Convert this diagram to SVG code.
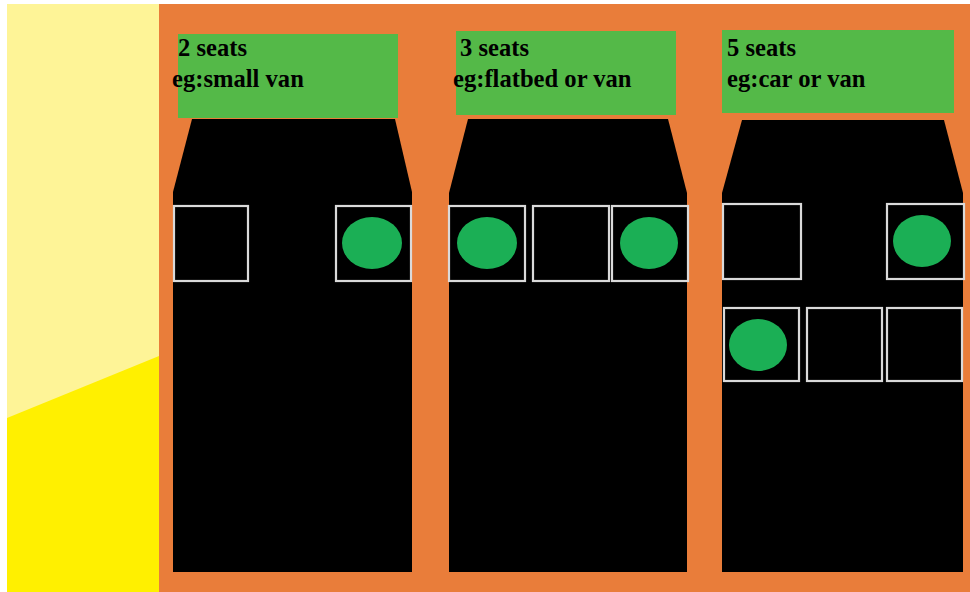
<svg xmlns="http://www.w3.org/2000/svg" width="970" height="592" viewBox="0 0 970 592">
<style>
.lbl{fill:#54B948}
.body{fill:#000}
.seat{fill:#000;stroke:#DADADA;stroke-width:2.2}
.occ{fill:#1BAF55}
text{font-family:"Liberation Serif","Times New Roman",serif;font-weight:bold;font-size:24.6px;fill:#000}
</style>
<rect x="0" y="0" width="970" height="592" fill="#fff"/>
<g id="background">
<rect x="7" y="4" width="152" height="588" fill="#FEF497"/>
<polygon points="7,418 159,356 159,592 7,592" fill="#FFF000"/>
<rect x="159" y="4" width="811" height="588" fill="#E97D3A"/>
</g>
<g id="vehicle-2-seats">
<rect class="lbl" x="178" y="34" width="220" height="84"/>
<polygon class="body" points="192,119 395,119 412,192 412,572 173,572 173,192"/>
<rect class="seat" x="174" y="206" width="74" height="75"/>
<rect class="seat" x="336" y="206" width="75" height="75"/>
<ellipse class="occ" cx="372" cy="243" rx="30" ry="26"/>
<text x="178" y="56">2 seats</text>
<text x="172" y="87">eg:small van</text>
</g>
<g id="vehicle-3-seats">
<rect class="lbl" x="456" y="31" width="220" height="84"/>
<polygon class="body" points="468,119 668,119 687,193 687,572 449,572 449,193"/>
<rect class="seat" x="449" y="206" width="76" height="75"/>
<rect class="seat" x="533" y="206" width="76" height="75"/>
<rect class="seat" x="612" y="206" width="76" height="75"/>
<ellipse class="occ" cx="487" cy="243" rx="30" ry="26"/>
<ellipse class="occ" cx="649" cy="243" rx="29" ry="26"/>
<text x="460" y="56">3 seats</text>
<text x="453" y="87">eg:flatbed or van</text>
</g>
<g id="vehicle-5-seats">
<rect class="lbl" x="722" y="30" width="232" height="83"/>
<polygon class="body" points="742,120 944,120 963,193 963,572 722,572 722,193"/>
<rect class="seat" x="723" y="204" width="78" height="75"/>
<rect class="seat" x="887" y="204" width="77" height="75"/>
<ellipse class="occ" cx="922" cy="241" rx="29" ry="26"/>
<rect class="seat" x="724" y="308" width="75" height="73"/>
<rect class="seat" x="807" y="308" width="75" height="73"/>
<rect class="seat" x="887" y="308" width="75" height="73"/>
<ellipse class="occ" cx="758" cy="345" rx="29" ry="26"/>
<text x="727" y="56">5 seats</text>
<text x="727" y="87">eg:car or van</text>
</g>
</svg>
